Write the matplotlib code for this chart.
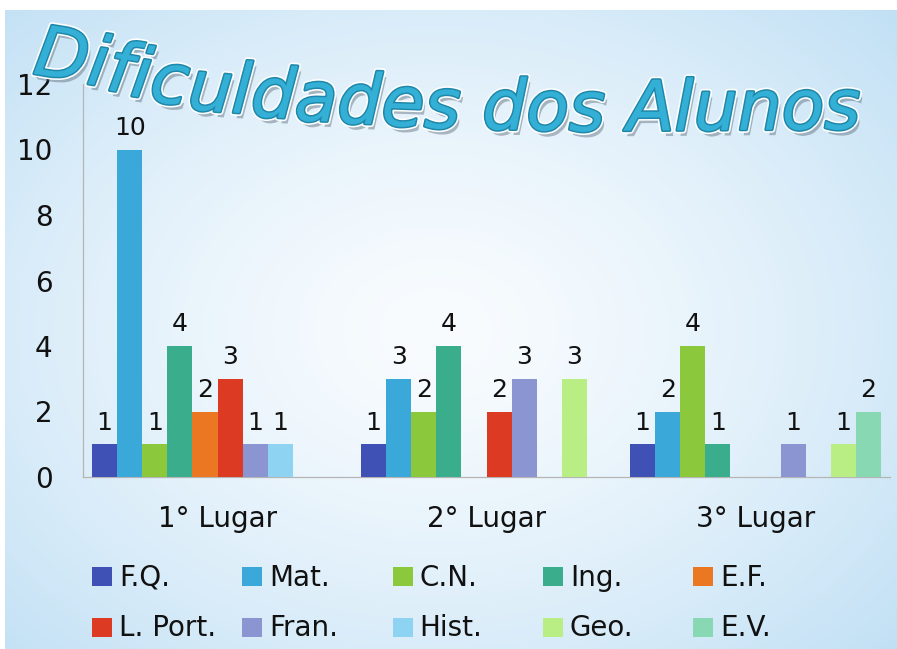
import matplotlib
matplotlib.use('Agg')
import matplotlib.pyplot as plt
import matplotlib.patches as mpatches
import matplotlib.patheffects as pe
from matplotlib.font_manager import FontProperties
import numpy as np

# dados
categorias = ['1° Lugar', '2° Lugar', '3° Lugar']
disciplinas = ['F.Q.', 'Mat.', 'C.N.', 'Ing.', 'E.F.',
               'L. Port.', 'Fran.', 'Hist.', 'Geo.', 'E.V.']
valores = {
    'F.Q.':     [1, 1, 1],
    'Mat.':     [10, 3, 2],
    'C.N.':     [1, 2, 4],
    'Ing.':     [4, 4, 1],
    'E.F.':     [2, 0, 0],
    'L. Port.': [3, 2, 0],
    'Fran.':    [1, 3, 1],
    'Hist.':    [1, 0, 0],
    'Geo.':     [0, 3, 1],
    'E.V.':     [0, 0, 2],
}
cores = ['#3f51b4', '#3aa8d8', '#8cc83c', '#3aae8c', '#ec7722',
         '#dc3a22', '#8b95d2', '#8ed3f2', '#b8ee84', '#88d8b4']
y_ticks = [0, 2, 4, 6, 8, 10, 12]
titulo = 'Dificuldades dos Alunos'

W, H = 897, 649
fig = plt.figure(figsize=(W / 100, H / 100), dpi=100, facecolor='white')

# fundo com gradiente radial azul claro
bg = fig.add_axes([5 / W, 0, (W - 5) / W, (H - 10) / H])
yy, xx = np.mgrid[0:H - 10, 0:W - 5]
r = np.sqrt(((xx - 430) / 620.0) ** 2 + ((yy - 320) / 470.0) ** 2)
t = np.clip(r, 0, 1) ** 1.4
centro = np.array([0.975, 0.988, 0.998])
borda = np.array([0.76, 0.88, 0.96])
img = centro[None, None, :] * (1 - t[..., None]) + borda[None, None, :] * t[..., None]
bg.imshow(img, aspect='auto', interpolation='bilinear')
bg.axis('off')

# grafico de barras
ax = fig.add_axes([83 / W, (H - 477) / H, 807 / W, 393 / H])
ax.set_facecolor('none')
x = np.arange(len(categorias))
w = 0.0933
for i, (nome, cor) in enumerate(zip(disciplinas, cores)):
    vals = valores[nome]
    bars = ax.bar(x + (i - 4.5) * w, vals, w, color=cor, zorder=3)
    ax.bar_label(bars, labels=[str(v) if v else '' for v in vals],
                 padding=7, fontsize=18, color='#111111')

ax.set_xlim(-0.5, 2.5)
ax.set_ylim(0, 12)
ax.set_yticks(y_ticks)
ax.set_xticks(x)
ax.set_xticklabels(categorias, fontsize=20, color='#111111')
ax.tick_params(axis='y', length=0, pad=22, labelsize=20, labelcolor='#111111')
ax.tick_params(axis='x', length=0, pad=20)
for s in ['top', 'right']:
    ax.spines[s].set_visible(False)
for s in ['left', 'bottom']:
    ax.spines[s].set_color('#b5b5b5')
    ax.spines[s].set_linewidth(0.9)

# legenda (2 linhas x 5 colunas)
for j, (nome, cor) in enumerate(zip(disciplinas, cores)):
    lin, col = divmod(j, 5)
    sx = 92 + col * 150.3
    sy = 576.5 + lin * 50.5
    fig.add_artist(mpatches.Rectangle((sx / W, 1 - (sy + 9.5) / H), 20 / W, 19 / H,
                                      transform=fig.transFigure, color=cor, lw=0))
    fig.text((sx + 27) / W, 1 - (sy + 1) / H, nome, fontsize=20, color='#111111',
             va='center', ha='left')

# titulo estilo WordArt, letra a letra sobre uma curva
fp = FontProperties(family='DejaVu Sans', weight='normal', style='oblique', size=40)
rend = fig.canvas.get_renderer()


def largura(s, prop):
    return rend.get_text_width_height_descent(s, prop, ismath=False)[0]


tam = 40 * 828 / largura(titulo, fp)
fp.set_size(tam)
curva_x = [32, 140, 210, 310, 450, 600, 860]
curva_y = [66, 96, 109, 120, 128, 131, 129]
efeitos = [pe.SimplePatchShadow(offset=(2.5, -4), shadow_rgbFace='#4a5a6a', alpha=0.4),
           pe.Stroke(linewidth=4.5, foreground='white'),
           pe.Stroke(linewidth=2.2, foreground='#1f88aa'),
           pe.Normal()]
for i, ch in enumerate(titulo):
    if ch == ' ':
        continue
    esq = largura(titulo[:i + 1], fp) - largura(ch, fp)
    px = 32 + esq
    cx = px + largura(ch, fp) / 2
    py = np.interp(cx, curva_x, curva_y)
    incl = (np.interp(cx + 5, curva_x, curva_y) - np.interp(cx - 5, curva_x, curva_y)) / 10
    rot = -np.degrees(np.arctan(incl)) * 0.6
    fig.text(px / W, 1 - py / H, ch, fontproperties=fp, color='#34b0d6',
             va='baseline', ha='left', rotation=rot, rotation_mode='anchor',
             path_effects=efeitos, zorder=10)

fig.savefig('out.png', dpi=100, facecolor=fig.get_facecolor())
